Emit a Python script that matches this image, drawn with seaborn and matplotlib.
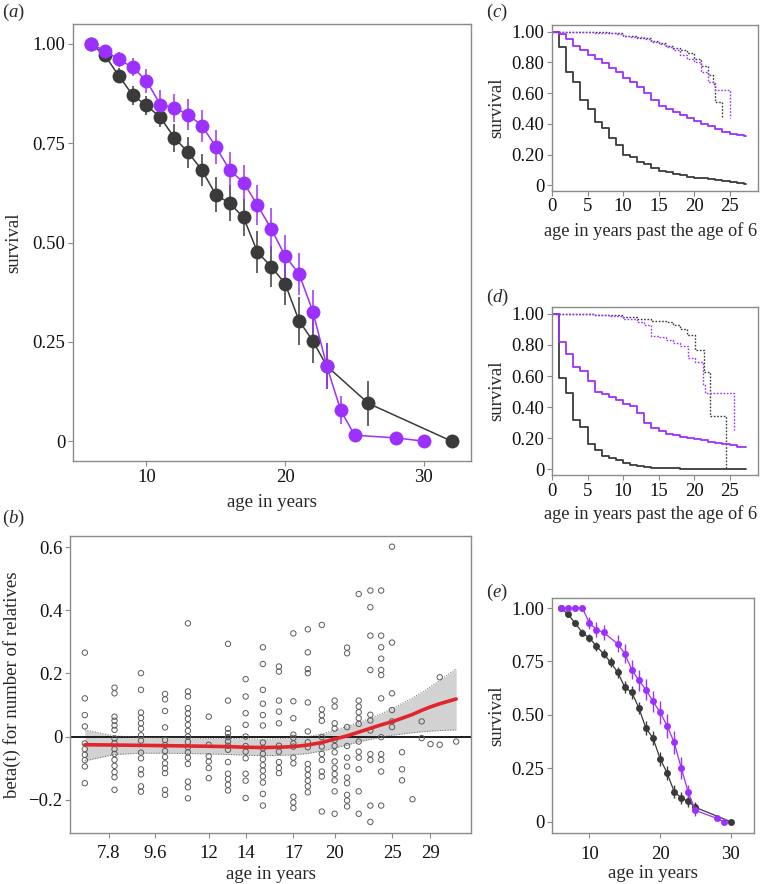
import numpy as np
import pandas as pd
import seaborn as sns
import matplotlib.pyplot as plt

# --- colours / style ---
PURPLE = '#9B30FF'
DARK = '#3a3a3a'
FRAME = '#8a8a8a'
FS = 13.5

# --- (a) survival by age, two groups ---
a_ages_purple = [6, 7, 8, 9, 10, 11, 12, 13, 14, 15, 16, 17, 18, 19, 20, 21, 22, 23, 24, 25, 28, 30]
a_surv_purple = [1.0, 0.982, 0.961, 0.941, 0.907, 0.847, 0.839, 0.822, 0.794, 0.741, 0.682, 0.651,
                 0.594, 0.534, 0.466, 0.421, 0.326, 0.189, 0.078, 0.015, 0.008, 0.0]
a_err_purple = [0.0, 0.012, 0.018, 0.023, 0.03, 0.037, 0.035, 0.038, 0.04, 0.043, 0.045, 0.045,
                0.05, 0.052, 0.053, 0.053, 0.055, 0.057, 0.035, 0.012, 0.005, 0.0]
a_ages_black = [6, 7, 8, 9, 10, 11, 12, 13, 14, 15, 16, 17, 18, 19, 20, 21, 22, 23, 26, 32]
a_surv_black = [1.0, 0.971, 0.92, 0.871, 0.845, 0.815, 0.764, 0.727, 0.682, 0.62, 0.599, 0.563,
                0.476, 0.439, 0.396, 0.303, 0.252, 0.189, 0.095, 0.0]
a_err_black = [0.0, 0.01, 0.019, 0.024, 0.025, 0.025, 0.035, 0.039, 0.041, 0.044, 0.045, 0.047,
               0.052, 0.051, 0.054, 0.061, 0.055, 0.057, 0.056, 0.0]

# --- (b) time-varying coefficient (Schoenfeld residuals) ---
event_ages = [7, 8, 9, 10, 11, 12, 13, 14, 15, 16, 17, 18, 19, 20, 21, 22, 23, 24, 25, 26, 27, 28, 29, 30, 32]
km_scale = [0.037, 0.111, 0.177, 0.237, 0.294, 0.346, 0.394, 0.438, 0.481, 0.521, 0.557, 0.593, 0.628,
            0.660, 0.691, 0.720, 0.749, 0.776, 0.803, 0.828, 0.854, 0.877, 0.899, 0.922, 0.963]
beta_points = [
    [0.266, 0.121, 0.068, 0.032, -0.022, -0.04, -0.058, -0.075, -0.095, -0.148],
    [0.155, 0.137, 0.063, 0.050, 0.035, 0.021, -0.006, -0.021, -0.040, -0.055, -0.074, -0.093, -0.113, -0.129, -0.169],
    [0.201, 0.148, 0.076, 0.059, 0.042, 0.025, 0.004, -0.013, -0.051, -0.069, -0.104, -0.120, -0.158, -0.175],
    [0.135, 0.118, 0.081, 0.029, -0.011, -0.027, -0.046, -0.065, -0.085, -0.101, -0.116, -0.169, -0.185],
    [0.359, 0.143, 0.127, 0.090, 0.073, 0.056, 0.037, 0.018, 0.0, -0.017, -0.034, -0.050, -0.067, -0.087, -0.143, -0.161, -0.196],
    [0.063, -0.026, -0.063, -0.079, -0.100, -0.132],
    [0.294, 0.114, 0.025, 0.011, -0.002, -0.016, -0.029, -0.042, -0.081, -0.118, -0.135, -0.153, -0.171],
    [0.182, 0.127, 0.074, 0.037, 0.0, -0.030, -0.048, -0.069, -0.118, -0.140, -0.195],
    [0.283, 0.230, 0.148, 0.104, 0.068, 0.035, -0.019, -0.037, -0.055, -0.072, -0.091, -0.108, -0.127, -0.146, -0.182, -0.219],
    [0.222, 0.206, 0.114, 0.079, 0.042, -0.029, -0.048, -0.081, -0.100, -0.116],
    [0.327, 0.112, 0.058, 0.006, -0.004, -0.022, -0.032, -0.067, -0.085, -0.191, -0.209, -0.227],
    [0.340, 0.267, 0.214, 0.201, 0.108, 0.016, -0.018, -0.034, -0.087, -0.104, -0.122, -0.140, -0.158, -0.177],
    [0.354, 0.086, 0.068, 0.050, -0.002, -0.032, -0.055, -0.074, -0.111, -0.127, -0.238],
    [0.114, 0.095, 0.042, 0.025, -0.011, -0.030, -0.050, -0.079, -0.100, -0.119, -0.139, -0.174, -0.245],
    [0.282, 0.264, 0.030, -0.030, -0.067, -0.095, -0.130, -0.148, -0.185, -0.203, -0.222],
    [0.452, 0.114, 0.095, 0.077, 0.058, 0.040, -0.016, -0.048, -0.067, -0.104, -0.174, -0.245],
    [0.463, 0.410, 0.320, 0.211, 0.069, 0.051, 0.019, -0.056, -0.074, -0.219, -0.271],
    [0.463, 0.320, 0.283, 0.247, 0.211, 0.195, 0.121, -0.002, -0.056, -0.074, -0.111, -0.219],
    [0.602, 0.298, 0.137, 0.084, 0.048, 0.030],
    [-0.050, -0.104, -0.139],
    [-0.199],
    [0.048, -0.005],
    [-0.024],
    [0.188, -0.026],
    [-0.016],
]
beta_fit = [-0.026, -0.027, -0.028, -0.029, -0.030, -0.031, -0.032, -0.034, -0.035, -0.034, -0.032, -0.027,
            -0.019, -0.008, 0.002, 0.014, 0.026, 0.037, 0.047, 0.058, 0.070, 0.083, 0.094, 0.104, 0.119]
beta_upper = [0.021, 0.002, -0.003, -0.004, -0.005, -0.006, -0.006, -0.007, -0.008, -0.007, -0.005, 0.0,
              0.008, 0.020, 0.032, 0.044, 0.058, 0.072, 0.088, 0.105, 0.122, 0.140, 0.158, 0.178, 0.215]
beta_lower = [-0.077, -0.057, -0.053, -0.053, -0.054, -0.055, -0.057, -0.059, -0.061, -0.060, -0.058, -0.054,
              -0.046, -0.036, -0.027, -0.017, -0.009, -0.002, 0.004, 0.008, 0.012, 0.015, 0.017, 0.019, 0.021]
b_tick_ages = [7.8, 9.6, 12, 14, 17, 20, 25, 29]

# --- (c) Kaplan-Meier curves past age 6 ---
years = list(range(28)) + [27.3]
c_black = [1.00, 0.90, 0.74, 0.67, 0.555, 0.50, 0.41, 0.375, 0.31, 0.265, 0.20, 0.185, 0.155, 0.14,
           0.11, 0.095, 0.085, 0.072, 0.065, 0.057, 0.05, 0.045, 0.04, 0.034, 0.027, 0.02, 0.015, 0.01, 0.01]
c_purple = [1.00, 0.985, 0.95, 0.91, 0.88, 0.85, 0.825, 0.795, 0.765, 0.735, 0.70, 0.67, 0.64, 0.60,
            0.555, 0.515, 0.495, 0.475, 0.46, 0.44, 0.42, 0.40, 0.385, 0.365, 0.35, 0.335, 0.325, 0.32, 0.32]
c_black_dot_t = [0, 5, 8, 10, 12, 14, 15, 16, 17, 18, 19, 20, 21, 22, 22.6, 23, 24]
c_black_dot = [1.0, 0.997, 0.99, 0.975, 0.96, 0.94, 0.925, 0.91, 0.895, 0.88, 0.86, 0.82, 0.78, 0.72,
               0.66, 0.545, 0.436]
c_purple_dot_t = [0, 6, 9, 10, 11, 13, 14, 15, 16, 17, 18, 19, 20, 21, 22, 23, 25]
c_purple_dot = [1.0, 0.995, 0.985, 0.975, 0.965, 0.95, 0.935, 0.92, 0.90, 0.88, 0.85, 0.82, 0.80,
                0.74, 0.675, 0.62, 0.436]

# --- (d) Kaplan-Meier curves, second model ---
d_black = [1.0, 0.585, 0.49, 0.32, 0.27, 0.16, 0.125, 0.085, 0.07, 0.06, 0.04, 0.025, 0.018, 0.012,
           0.01, 0.008, 0.006, 0.005, 0.004, 0.003, 0.003, 0.002, 0.002, 0.002, 0.001, 0.001, 0.001, 0.001, 0.001]
d_purple = [1.0, 0.82, 0.74, 0.655, 0.63, 0.57, 0.50, 0.485, 0.465, 0.445, 0.42, 0.405, 0.365, 0.295,
            0.265, 0.245, 0.23, 0.22, 0.21, 0.20, 0.195, 0.185, 0.175, 0.17, 0.16, 0.155, 0.145, 0.14, 0.14]
d_black_dot_t = [0, 6, 9, 10, 12, 14, 16, 17, 18, 19, 20.2, 21.4, 22.3, 24.5]
d_black_dot = [1.0, 0.995, 0.99, 0.98, 0.965, 0.955, 0.945, 0.925, 0.905, 0.862, 0.766, 0.623, 0.343, 0.0]
d_purple_dot_t = [0, 6, 8, 10, 12, 13, 14, 15, 16, 17, 18, 19.2, 20.2, 21.3, 21.6, 25.6]
d_purple_dot = [1.0, 0.995, 0.985, 0.97, 0.95, 0.93, 0.86, 0.85, 0.83, 0.81, 0.79, 0.715, 0.69, 0.543,
                0.489, 0.255]

# --- (e) survival by age, replicate ---
e_ages_purple = [6, 7, 8, 9, 10, 11, 12, 14, 15, 16, 17, 18, 19, 20, 21, 22, 23, 24, 25, 28, 29]
e_surv_purple = [1.0, 1.0, 1.0, 1.0, 0.93, 0.899, 0.886, 0.832, 0.786, 0.711, 0.661, 0.618, 0.563,
                 0.512, 0.449, 0.371, 0.251, 0.137, 0.053, 0.016, 0.0]
e_err_purple = [0.0, 0.0, 0.0, 0.0, 0.03, 0.035, 0.035, 0.04, 0.045, 0.045, 0.05, 0.05, 0.05, 0.055,
                0.055, 0.055, 0.05, 0.035, 0.025, 0.01, 0.0]
e_ages_black = [6, 7, 8, 9, 10, 11, 12, 13, 14, 15, 16, 17, 18, 19, 20, 21, 22, 23, 24, 25, 30]
e_surv_black = [1.0, 0.97, 0.928, 0.885, 0.86, 0.821, 0.786, 0.746, 0.699, 0.63, 0.605, 0.532, 0.437,
                0.392, 0.295, 0.228, 0.14, 0.111, 0.095, 0.067, 0.0]
e_err_black = [0.0, 0.01, 0.012, 0.015, 0.017, 0.02, 0.022, 0.024, 0.027, 0.03, 0.03, 0.03, 0.032,
               0.032, 0.033, 0.032, 0.03, 0.027, 0.025, 0.025, 0.0]


sns.set_theme(style="white")
plt.rcParams['font.family'] = ['Liberation Serif', 'DejaVu Serif']
plt.rcParams['mathtext.fontset'] = 'custom'
plt.rcParams['mathtext.rm'] = 'Liberation Serif'
plt.rcParams['mathtext.it'] = 'Liberation Serif:italic'
plt.rcParams['axes.unicode_minus'] = True

W, H = 761, 884
fig = plt.figure(figsize=(W / 100, H / 100), dpi=100)


def px_axes(x0, y0, x1, y1):
    return fig.add_axes([x0 / W, 1 - y1 / H, (x1 - x0) / W, (y1 - y0) / H])


def style_axes(ax, xpad, ypad=2):
    for s in ax.spines.values():
        s.set_color(FRAME)
        s.set_linewidth(1.0)
    ax.tick_params(axis='both', which='both', bottom=True, left=True, length=3.5, width=0.8,
                   color=FRAME, labelsize=FS, labelcolor='#111111')
    ax.tick_params(axis='x', pad=xpad)
    ax.tick_params(axis='y', pad=ypad)


def surv_points(ax, ages, surv, err, color, ms, lw, elw):
    ax.errorbar(ages, surv, yerr=err, fmt='none', ecolor=color, elinewidth=elw, capsize=0, zorder=2)
    sns.lineplot(x=ages, y=surv, ax=ax, color=color, lw=lw, marker='o', markersize=ms,
                 markeredgewidth=0, estimator=None, sort=False, zorder=3)


def km_step(ax, t, s, color, ls='-', lw=1.3):
    sns.lineplot(x=t, y=s, ax=ax, color=color, lw=lw, linestyle=ls, drawstyle='steps-post',
                 estimator=None, sort=False)


surv_ticks = [0, 0.25, 0.5, 0.75, 1.0]
surv_labels = ['0', '0.25', '0.50', '0.75', '1.00']
km_ticks = [0, 0.2, 0.4, 0.6, 0.8, 1.0]
km_labels = ['0', '0.20', '0.40', '0.60', '0.80', '1.00']
KM_XLABEL = 'age in years past the age of 6'

# ---------- (a) ----------
ax_a = px_axes(73, 24, 471, 461)
surv_points(ax_a, a_ages_black, a_surv_black, a_err_black, DARK, 10, 1.1, 1.1)
surv_points(ax_a, a_ages_purple, a_surv_purple, a_err_purple, PURPLE, 10, 1.1, 1.1)
ax_a.set_xlim(4.7, 33.4)
ax_a.set_ylim(-0.05, 1.05)
ax_a.set_xticks([10, 20, 30])
ax_a.set_yticks(surv_ticks)
ax_a.set_yticklabels(surv_labels)
style_axes(ax_a, xpad=2)
ax_a.set_xlabel('age in years', fontsize=FS)
ax_a.set_ylabel('survival', fontsize=FS)
ax_a.xaxis.set_label_coords(0.5, -0.075)
ax_a.yaxis.set_label_coords(-0.128, 0.5)

# ---------- (b) ----------
ax_b = px_axes(70, 536, 471, 833)
rows = [(k, b) for k, col in zip(km_scale, beta_points) for b in col]
df_b = pd.DataFrame(rows, columns=['km', 'beta'])
ax_b.fill_between(km_scale, beta_lower, beta_upper, color='#d2d2d2', lw=0, zorder=1)
ax_b.axhline(0, color='#1a1a1a', lw=1.4, zorder=2)
sns.lineplot(x=km_scale, y=beta_upper, ax=ax_b, color='#6a6a6a', lw=0.7, linestyle=':',
             estimator=None, sort=False, zorder=2)
sns.lineplot(x=km_scale, y=beta_lower, ax=ax_b, color='#6a6a6a', lw=0.7, linestyle=':',
             estimator=None, sort=False, zorder=2)
sns.scatterplot(data=df_b, x='km', y='beta', ax=ax_b, s=15, color='#5a5a5a',
                facecolors='none', edgecolor='#5a5a5a', linewidth=0.7, zorder=3)
sns.lineplot(x=km_scale, y=beta_fit, ax=ax_b, color='#e0262c', lw=2.6, estimator=None,
             sort=False, zorder=4)
ax_b.set_xlim(0, 1)
ax_b.set_ylim(-0.306, 0.636)
ax_b.set_xticks(np.interp(b_tick_ages, event_ages, km_scale))
ax_b.set_xticklabels([f'{t:g}' for t in b_tick_ages])
ax_b.set_yticks([-0.2, 0, 0.2, 0.4, 0.6])
ax_b.set_yticklabels(['\u22120.2', '0', '0.2', '0.4', '0.6'])
style_axes(ax_b, xpad=5)
ax_b.set_xlabel('age in years', fontsize=FS)
ax_b.set_ylabel('beta(t) for number of relatives', fontsize=FS)
ax_b.xaxis.set_label_coords(0.5, -0.11)
ax_b.yaxis.set_label_coords(-0.123, 0.5)

# ---------- (c) ----------
ax_c = px_axes(552, 25, 758, 191)
km_step(ax_c, c_black_dot_t, c_black_dot, DARK, ls=(0, (1.2, 1.2)), lw=1.0)
km_step(ax_c, c_purple_dot_t, c_purple_dot, PURPLE, ls=(0, (1.2, 1.2)), lw=1.0)
km_step(ax_c, years, c_black, DARK)
km_step(ax_c, years, c_purple, PURPLE)
ax_c.set_xlim(0, 29)
ax_c.set_ylim(-0.037, 1.044)
ax_c.set_xticks([0, 5, 10, 15, 20, 25])
ax_c.set_yticks(km_ticks)
ax_c.set_yticklabels(km_labels)
style_axes(ax_c, xpad=1.5)
ax_c.set_xlabel(KM_XLABEL, fontsize=13.2)
ax_c.set_ylabel('survival', fontsize=FS)
ax_c.xaxis.set_label_coords(0.48, -0.185)
ax_c.yaxis.set_label_coords(-0.226, 0.5)

# ---------- (d) ----------
ax_d = px_axes(552, 307, 758, 475)
km_step(ax_d, d_black_dot_t, d_black_dot, DARK, ls=(0, (1.2, 1.2)), lw=1.0)
km_step(ax_d, d_purple_dot_t, d_purple_dot, PURPLE, ls=(0, (1.2, 1.2)), lw=1.0)
km_step(ax_d, years, d_black, DARK)
km_step(ax_d, years, d_purple, PURPLE)
ax_d.set_xlim(0, 29)
ax_d.set_ylim(-0.037, 1.044)
ax_d.set_xticks([0, 5, 10, 15, 20, 25])
ax_d.set_yticks(km_ticks)
ax_d.set_yticklabels(km_labels)
style_axes(ax_d, xpad=2.5)
ax_d.set_xlabel(KM_XLABEL, fontsize=13.2)
ax_d.set_ylabel('survival', fontsize=FS)
ax_d.xaxis.set_label_coords(0.48, -0.18)
ax_d.yaxis.set_label_coords(-0.226, 0.5)

# ---------- (e) ----------
ax_e = px_axes(552, 598, 754, 833)
surv_points(ax_e, e_ages_black, e_surv_black, e_err_black, DARK, 5, 0.9, 1.0)
surv_points(ax_e, e_ages_purple, e_surv_purple, e_err_purple, PURPLE, 5, 0.9, 1.0)
ax_e.set_xlim(4.7, 33.3)
ax_e.set_ylim(-0.053, 1.047)
ax_e.set_xticks([10, 20, 30])
ax_e.set_yticks(surv_ticks)
ax_e.set_yticklabels(surv_labels)
style_axes(ax_e, xpad=6)
ax_e.set_xlabel('age in years', fontsize=FS)
ax_e.set_ylabel('survival', fontsize=FS)
ax_e.xaxis.set_label_coords(0.5, -0.135)
ax_e.yaxis.set_label_coords(-0.23, 0.5)

# panel letters
for lab, x, y in [('a', 2, 12), ('b', 2, 518), ('c', 486, 12), ('d', 486, 297), ('e', 486, 592)]:
    fig.text(x / W, 1 - y / H, rf'$(\mathit{{{lab}}})$', fontsize=FS, ha='left', va='center')

fig.savefig('out.png', dpi=100)
